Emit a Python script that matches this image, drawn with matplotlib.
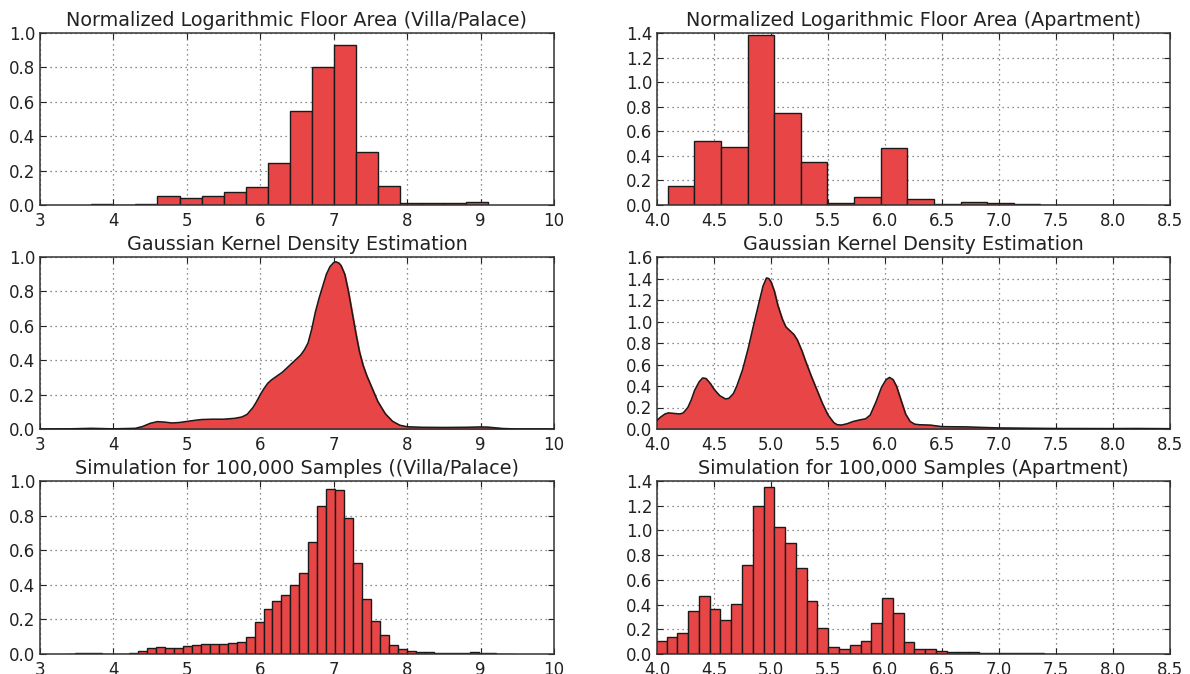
import numpy as np
import matplotlib.pyplot as plt

# observed histogram, villa/palace (bin width 0.3 from 3.7)
villa_edge0, villa_width = 3.7, 0.3
villa_hist = [0.003, 0.0, 0.003, 0.054, 0.042, 0.054, 0.075, 0.102, 0.243, 0.546,
              0.801, 0.932, 0.309, 0.108, 0.010, 0.010, 0.010, 0.017]

# observed histogram, apartment
apt_edge0, apt_width = 4.094, 0.2335
apt_hist = [0.151, 0.524, 0.476, 1.381, 0.751, 0.349, 0.014, 0.068, 0.466, 0.049,
            0.011, 0.025, 0.018, 0.010, 0.002, 0.002, 0.002, 0.002]

# kernel density estimate, villa/palace
villa_kde_x = [3.0, 3.4, 3.7, 4.0, 4.3, 4.4, 4.5, 4.6, 4.7, 4.8, 4.9, 5.0, 5.1, 5.2,
               5.35, 5.5, 5.65, 5.75, 5.82, 5.9, 5.95, 6.0, 6.05, 6.1, 6.15, 6.2,
               6.3, 6.4, 6.5, 6.55, 6.6, 6.65, 6.7, 6.75, 6.8, 6.85, 6.9, 6.95, 7.0,
               7.03, 7.07, 7.1, 7.15, 7.2, 7.25, 7.3, 7.35, 7.4, 7.45, 7.5, 7.6,
               7.7, 7.8, 7.9, 8.0, 8.2, 8.5, 8.8, 9.0, 9.1, 9.2, 9.3, 9.5, 10.0]
villa_kde_y = [0.0, 0.001, 0.004, 0.001, 0.004, 0.015, 0.033, 0.043, 0.040, 0.035,
               0.038, 0.044, 0.050, 0.055, 0.057, 0.057, 0.062, 0.070, 0.085, 0.125,
               0.160, 0.200, 0.235, 0.265, 0.285, 0.300, 0.330, 0.370, 0.410, 0.430,
               0.460, 0.500, 0.580, 0.680, 0.760, 0.830, 0.900, 0.945, 0.968, 0.972,
               0.965, 0.950, 0.900, 0.800, 0.680, 0.560, 0.450, 0.370, 0.310, 0.260,
               0.160, 0.090, 0.045, 0.022, 0.013, 0.010, 0.009, 0.010, 0.012, 0.011,
               0.007, 0.003, 0.0, 0.0]

# kernel density estimate, apartment
apt_kde_x = [4.0, 4.03, 4.07, 4.1, 4.15, 4.2, 4.23, 4.27, 4.3, 4.33, 4.37, 4.4, 4.43,
             4.47, 4.5, 4.55, 4.6, 4.63, 4.67, 4.7, 4.75, 4.8, 4.85, 4.9, 4.93, 4.96,
             4.98, 5.0, 5.03, 5.06, 5.1, 5.13, 5.17, 5.2, 5.23, 5.27, 5.3, 5.35, 5.4,
             5.45, 5.5, 5.55, 5.58, 5.62, 5.67, 5.72, 5.78, 5.83, 5.87, 5.92, 5.97,
             6.01, 6.04, 6.07, 6.1, 6.14, 6.18, 6.22, 6.26, 6.3, 6.4, 6.5, 6.7, 6.85,
             7.0, 7.5, 8.0, 8.2, 8.5]
apt_kde_y = [0.08, 0.11, 0.14, 0.15, 0.145, 0.14, 0.15, 0.20, 0.27, 0.36, 0.44, 0.475,
             0.47, 0.42, 0.37, 0.31, 0.28, 0.285, 0.33, 0.40, 0.55, 0.75, 0.98, 1.20,
             1.33, 1.405, 1.40, 1.37, 1.28, 1.15, 1.02, 0.95, 0.91, 0.88, 0.83, 0.73,
             0.64, 0.50, 0.37, 0.24, 0.13, 0.06, 0.04, 0.037, 0.05, 0.07, 0.085, 0.095,
             0.13, 0.25, 0.39, 0.46, 0.48, 0.46, 0.40, 0.27, 0.14, 0.07, 0.045, 0.04,
             0.036, 0.022, 0.02, 0.015, 0.01, 0.005, 0.004, 0.005, 0.003]

# simulated samples, villa/palace (50 bins)
sim_villa_edge0, sim_villa_width = 3.36, 0.122
sim_villa_hist = [0.002, 0.003, 0.004, 0.003, 0.002, 0.001, 0.001, 0.004, 0.016, 0.035,
                  0.039, 0.036, 0.035, 0.044, 0.050, 0.056, 0.058, 0.057, 0.063, 0.070,
                  0.097, 0.183, 0.262, 0.309, 0.342, 0.400, 0.470, 0.650, 0.854, 0.953,
                  0.946, 0.784, 0.528, 0.317, 0.192, 0.109, 0.054, 0.028, 0.015, 0.010,
                  0.009, 0.008, 0.007, 0.007, 0.008, 0.011, 0.007, 0.004, 0.002, 0.001]

# simulated samples, apartment (50 bins)
sim_apt_edge0, sim_apt_width = 3.99, 0.0945
sim_apt_hist = [0.109, 0.140, 0.170, 0.350, 0.467, 0.366, 0.274, 0.407, 0.719, 1.199,
                1.351, 1.031, 0.900, 0.692, 0.431, 0.210, 0.060, 0.041, 0.073, 0.103,
                0.250, 0.453, 0.331, 0.100, 0.041, 0.038, 0.025, 0.020, 0.020, 0.015,
                0.012, 0.010, 0.008, 0.007, 0.006, 0.005, 0.004, 0.003, 0.003, 0.002,
                0.002, 0.002, 0.002, 0.002, 0.002, 0.002, 0.001, 0.001, 0.001, 0.001]

titles = ['Normalized Logarithmic Floor Area (Villa/Palace)',
          'Normalized Logarithmic Floor Area (Apartment)',
          'Gaussian Kernel Density Estimation',
          'Gaussian Kernel Density Estimation',
          'Simulation for 100,000 Samples ((Villa/Palace)',
          'Simulation for 100,000 Samples (Apartment)']

RED = '#e84646'
EDGE = '#1a1a1a'
plt.rcParams['font.family'] = 'DejaVu Sans'

fig = plt.figure(figsize=(11.9, 6.74), dpi=100)

# axes boxes in pixels: left/right columns, three rows
W, H = 1190, 674
cols = [(40, 554), (657, 1170)]
rows = [(33, 205), (257, 429), (481, 654)]


def style(ax, left_col, ymax, ystep):
    if left_col:
        ax.set_xlim(3, 10)
        ax.set_xticks(np.arange(3, 11, 1))
    else:
        xt = np.arange(4.0, 8.51, 0.5)
        ax.set_xlim(4.0, 8.5)
        ax.set_xticks(xt)
        ax.set_xticklabels(['%.1f' % v for v in xt])
    ax.set_ylim(0, ymax)
    yt = np.arange(0, ymax + 1e-9, ystep)
    ax.set_yticks(yt)
    ax.set_yticklabels(['%.1f' % v for v in yt])
    ax.grid(True, linestyle=(0, (1, 3)), color='#666666', linewidth=0.9)
    ax.set_axisbelow(True)
    ax.tick_params(direction='in', top=True, right=True, length=4,
                   labelsize=12, colors='#222222')
    ax.tick_params(axis='x', pad=5)
    ax.tick_params(axis='y', pad=3.5)
    for s in ax.spines.values():
        s.set_linewidth(1.1)
        s.set_color('#333333')


def hist_bars(ax, edge0, width, values):
    edges = edge0 + width * np.arange(len(values))
    ax.bar(edges, values, width=width, align='edge', color=RED,
           edgecolor=EDGE, linewidth=1.0, zorder=2)


def kde_area(ax, xs, ys):
    ax.fill_between(xs, ys, color=RED, zorder=2)
    ax.plot(xs, ys, color=EDGE, linewidth=1.1, zorder=3)


axes = []
for top, bot in rows:
    for left, right in cols:
        axes.append(fig.add_axes([left / W, 1 - bot / H, (right - left) / W, (bot - top) / H]))

hist_bars(axes[0], villa_edge0, villa_width, villa_hist)
style(axes[0], True, 1.0, 0.2)

hist_bars(axes[1], apt_edge0, apt_width, apt_hist)
style(axes[1], False, 1.4, 0.2)

kde_area(axes[2], villa_kde_x, villa_kde_y)
style(axes[2], True, 1.0, 0.2)

kde_area(axes[3], apt_kde_x, apt_kde_y)
style(axes[3], False, 1.6, 0.2)

hist_bars(axes[4], sim_villa_edge0, sim_villa_width, sim_villa_hist)
style(axes[4], True, 1.0, 0.2)

hist_bars(axes[5], sim_apt_edge0, sim_apt_width, sim_apt_hist)
style(axes[5], False, 1.4, 0.2)

for ax, t in zip(axes, titles):
    ax.set_title(t, fontsize=13.8, pad=5, color='#222222')

fig.savefig('out.png', dpi=100, facecolor='white')
